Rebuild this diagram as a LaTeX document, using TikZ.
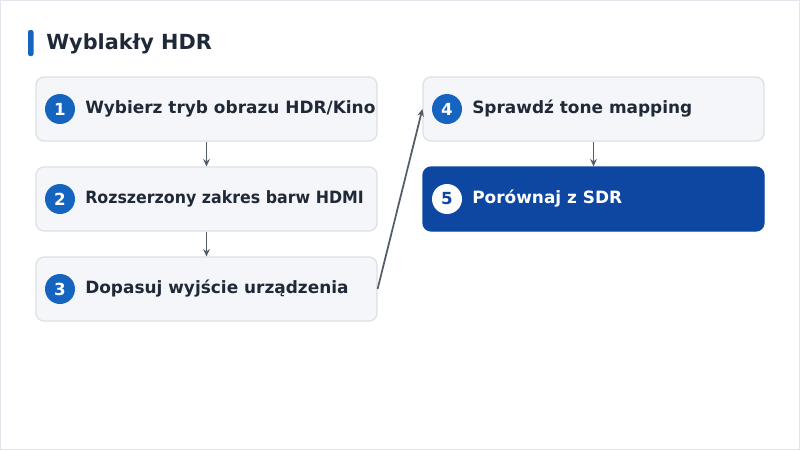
\documentclass[tikz,border=0pt]{standalone}
\usepackage{fontspec}
\setmainfont{DejaVu Sans}[BoldFont={DejaVu Sans Bold}]
\usetikzlibrary{arrows.meta}
\definecolor{txt}{HTML}{1F2937}
\definecolor{boxfill}{HTML}{F5F6F9}
\definecolor{boxline}{HTML}{DCE0E6}
\definecolor{accent}{HTML}{1565C0}
\definecolor{dark}{HTML}{0D47A1}
\definecolor{arr}{HTML}{525C6A}
\definecolor{frame}{HTML}{E2E6EC}
\tikzset{
  stepbox/.style={draw=boxline, fill=boxfill, line width=0.9pt, rounded corners=6pt, minimum width=255.75pt, minimum height=48pt, inner sep=0pt},
  hotbox/.style={draw=dark, fill=dark, line width=0.9pt, rounded corners=6pt, minimum width=255.75pt, minimum height=48pt, inner sep=0pt},
  num/.style={circle, fill=accent, text=white, minimum size=22.5pt, inner sep=0pt, font=\bfseries\fontsize{12.5}{14}\selectfont},
  numw/.style={circle, fill=white, text=dark, minimum size=22.5pt, inner sep=0pt, font=\bfseries\fontsize{12.5}{14}\selectfont},
  lbl/.style={anchor=west, text=txt, inner sep=0pt, font=\bfseries\fontsize{12.7}{15}\selectfont},
  lblw/.style={anchor=west, text=white, inner sep=0pt, font=\bfseries\fontsize{12.7}{15}\selectfont},
  conn/.style={draw=arr, line width=1.3pt, -{Stealth[length=5.5pt,width=5pt]}},
}
\begin{document}
\begin{tikzpicture}[x=0.75pt,y=-0.75pt]
\useasboundingbox (0,0) rectangle (800,450);
\fill[white] (0,0) rectangle (800,450);
\draw[frame, line width=1.2pt] (0.6,0.6) rectangle (799.4,449.4);
% title
\fill[accent, rounded corners=1.5pt] (28,30) rectangle (33.5,56);
\node[anchor=west, text=txt, inner sep=0pt, font=\bfseries\fontsize{15.6}{18}\selectfont] (title) at (46,44) {Wyblakły HDR};
% boxes
\node[stepbox] (b1) at (206.5,109) {};
\node[stepbox] (b2) at (206.5,199) {};
\node[stepbox] (b3) at (206.5,289) {};
\node[stepbox] (b4) at (593.5,109) {};
\node[hotbox] (b5) at (593.5,199) {};
\node[num] (n1) at (60,109) {1};
\node[num] (n2) at (60,199) {2};
\node[num] (n3) at (60,289) {3};
\node[num] (n4) at (447,109) {4};
\node[numw] (n5) at (447,199) {5};
\node[lbl] (t1) at (85,109) {Wybierz tryb obrazu HDR/Kino};
\node[lbl] (t2) at (85,199) {\scalebox{0.935}[1]{Rozszerzony zakres barw HDMI}};
\node[lbl] (t3) at (85,289) {Dopasuj wyjście urządzenia};
\node[lbl] (t4) at (472,109) {Sprawdź tone mapping};
\node[lblw] (t5) at (472,199) {Porównaj z SDR};
% connectors
\draw[conn] (b1.south) -- (b2.north);
\draw[conn] (b2.south) -- (b3.north);
\draw[conn] (b3.east) -- (b4.west);
\draw[conn] (b4.south) -- (b5.north);
\end{tikzpicture}
\end{document}
